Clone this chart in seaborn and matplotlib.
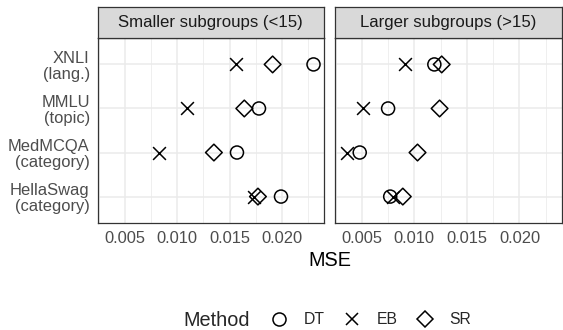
import matplotlib
matplotlib.use("Agg")
import matplotlib.pyplot as plt
from matplotlib.ticker import MultipleLocator
from matplotlib.lines import Line2D
import seaborn as sns
import pandas as pd

# --- data -------------------------------------------------------------
datasets = ["XNLI\n(lang.)", "MMLU\n(topic)", "MedMCQA\n(category)", "HellaSwag\n(category)"]
methods = ["DT", "EB", "SR"]
panels = ["Smaller subgroups (<15)", "Larger subgroups (>15)"]

# MSE per dataset (rows follow `datasets`), one list per method
small_dt = [0.0230, 0.0178, 0.0157, 0.0199]
small_eb = [0.0156, 0.0109, 0.0083, 0.0173]
small_sr = [0.0191, 0.0164, 0.0135, 0.0177]

large_dt = [0.0119, 0.0075, 0.0048, 0.0077]
large_eb = [0.0091, 0.0051, 0.0036, 0.0080]
large_sr = [0.0126, 0.0124, 0.0103, 0.0089]

x_ticks = [0.005, 0.010, 0.015, 0.020]

rows = []
for panel, series in zip(panels, [(small_dt, small_eb, small_sr),
                                  (large_dt, large_eb, large_sr)]):
    for method, vals in zip(methods, series):
        for ds, v in zip(datasets, vals):
            rows.append({"Panel": panel, "Method": method, "Dataset": ds, "MSE": v})
df = pd.DataFrame(rows)

# --- style ------------------------------------------------------------
sns.set_style("white")
plt.rcParams["font.family"] = ["Liberation Sans", "DejaVu Sans"]

W, H = 563, 330
fig = plt.figure(figsize=(W / 100, H / 100), dpi=100)

def fx(px):
    return px / W

def fy(py):
    return 1 - py / H

panel_top, panel_bot = 38, 223
strip_top = 7
lefts = [97.5, 334.5]
rights = [324.0, 561.5]

border = "#333333"
grid_col = "#EBEBEB"
xlim = (0.0024, 0.0240)

marker_kw = {
    "DT": dict(marker="o", s=88, facecolors="none", edgecolors="black", linewidths=1.1),
    "EB": dict(marker="x", s=85, color="black", linewidths=1.1),
    "SR": dict(marker="D", s=72, facecolors="none", edgecolors="black", linewidths=1.1),
}

axes = []
for i, panel in enumerate(panels):
    ax = fig.add_axes([fx(lefts[i]), fy(panel_bot), fx(rights[i] - lefts[i]),
                       (panel_bot - panel_top) / H])
    axes.append(ax)
    sub = df[df["Panel"] == panel]
    for method in methods:
        d = sub[sub["Method"] == method]
        sns.scatterplot(data=d, x="MSE", y="Dataset", ax=ax, legend=False,
                        zorder=3, **marker_kw[method])
    ax.set_xlim(*xlim)
    ax.set_ylim(len(datasets) - 0.4, -0.6)
    ax.xaxis.set_major_locator(MultipleLocator(0.005))
    ax.xaxis.set_minor_locator(MultipleLocator(0.0025))
    ax.set_xticks(x_ticks)
    ax.set_xticklabels([f"{t:.3f}" for t in x_ticks])
    ax.grid(True, which="major", color=grid_col, lw=1.1, zorder=0)
    ax.grid(True, which="minor", axis="x", color=grid_col, lw=0.55, zorder=0)
    ax.set_axisbelow(True)
    for sp in ax.spines.values():
        sp.set_color(border)
        sp.set_linewidth(0.9)
        sp.set_visible(True)
    ax.tick_params(axis="x", which="major", length=3.6, width=0.8, color=border,
                   labelsize=11.9, labelcolor="#4D4D4D", pad=2.0)
    ax.tick_params(axis="x", which="minor", length=0)
    ax.set_xlabel("")
    ax.set_ylabel("")
    if i == 0:
        ax.tick_params(axis="y", length=3.6, width=0.8, color=border,
                       labelsize=11.9, labelcolor="#4D4D4D", pad=2.0)
        for lab in ax.get_yticklabels():
            lab.set_linespacing(1.05)
            lab.set_horizontalalignment("right")
    else:
        ax.tick_params(axis="y", length=0, labelleft=False)

    # facet strip
    sax = fig.add_axes([fx(lefts[i]), fy(panel_top), fx(rights[i] - lefts[i]),
                        (panel_top - strip_top) / H])
    sax.set_facecolor("#D9D9D9")
    sax.set_xticks([])
    sax.set_yticks([])
    for sp in sax.spines.values():
        sp.set_color(border)
        sp.set_linewidth(0.9)
        sp.set_visible(True)
    sax.text(0.5, 0.5, panel, ha="center", va="center", fontsize=12.1,
             color="#1A1A1A", transform=sax.transAxes)

fig.text(fx((lefts[0] + rights[1]) / 2), fy(261), "MSE", ha="center", va="center",
         fontsize=14.3, color="black")

# legend
fig.text(fx(183), fy(320), "Method", ha="left", va="center", fontsize=14.3)
handles = [
    Line2D([], [], ls="none", marker="o", ms=9.4, mfc="none", mec="black", mew=1.1),
    Line2D([], [], ls="none", marker="x", ms=9.2, mec="black", mew=1.1),
    Line2D([], [], ls="none", marker="D", ms=8.5, mfc="none", mec="black", mew=1.1),
]
fig.legend(handles, methods, loc="center left", bbox_to_anchor=(fx(268), fy(320)),
           ncol=3, frameon=False, fontsize=11.3, handlelength=1.4,
           handletextpad=0.85, columnspacing=1.07, borderaxespad=0, borderpad=0)

fig.savefig("out.png", dpi=100)
